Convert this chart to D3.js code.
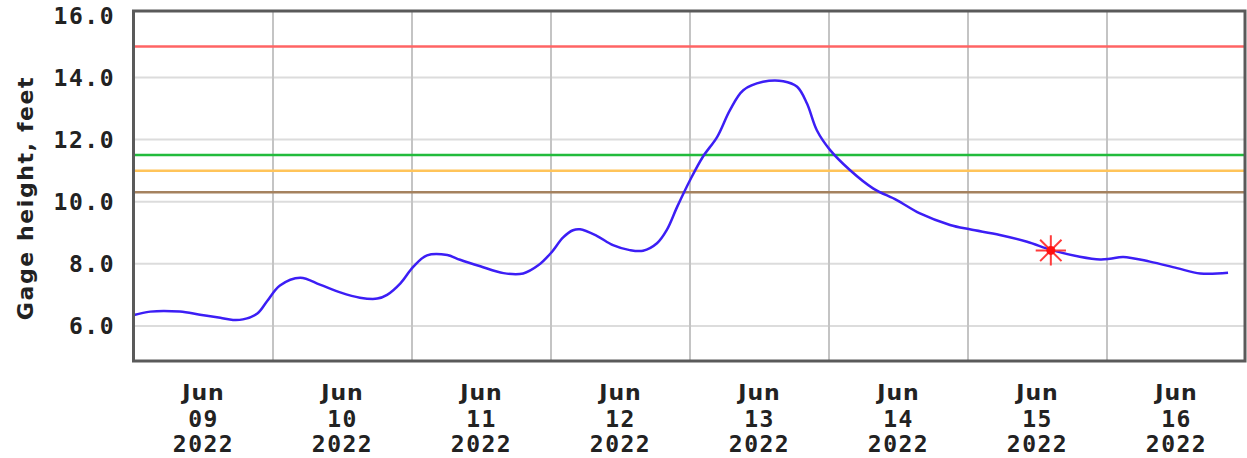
<!DOCTYPE html>
<html>
<head>
<meta charset="utf-8">
<script src="https://cdn.jsdelivr.net/npm/d3@7"></script>
<style>
  html, body { margin: 0; padding: 0; background: #fff; }
  svg { display: block; }
</style>
</head>
<body>
<svg id="chart" width="1247" height="458"></svg>
<script>
// ---- data (hours after 2022-06-09 00:00, gage height in feet) ----
const hoursSinceStart = [0, 2.8, 7.9, 11.4, 14.9, 17.1, 18.8, 21.3, 23.0, 25.2, 28.7, 32.1, 35.6, 39.0, 42.0, 43.7, 46.0, 48.2, 50.6, 54.1, 56.3, 59.8, 63.8, 67.2, 69.8, 72.0, 74.1, 75.8, 77.0, 79.9, 82.7, 85.6, 87.9, 90.3, 92.0, 93.8, 96.0, 98.2, 100.7, 102.9, 105.2, 108.6, 112.1, 114.5, 116.2, 117.9, 120.2, 123.6, 127.6, 131.7, 135.7, 140.9, 144.3, 149.5, 154.2, 158.5, 163.3, 166.8, 168.5, 170.8, 175.4, 180.1, 184.1, 188.9];
const gageHeight = [6.35, 6.46, 6.46, 6.36, 6.26, 6.19, 6.21, 6.40, 6.80, 7.30, 7.55, 7.33, 7.08, 6.91, 6.88, 7.00, 7.37, 7.90, 8.27, 8.28, 8.13, 7.92, 7.70, 7.69, 7.95, 8.35, 8.85, 9.08, 9.11, 8.90, 8.60, 8.44, 8.42, 8.66, 9.09, 9.84, 10.69, 11.44, 12.09, 12.95, 13.59, 13.86, 13.88, 13.70, 13.16, 12.30, 11.66, 11.02, 10.43, 10.05, 9.62, 9.25, 9.11, 8.93, 8.71, 8.44, 8.23, 8.14, 8.16, 8.22, 8.07, 7.86, 7.69, 7.71];
const thresholdValues = [15.0, 11.5, 11.0, 10.3];
const thresholdColors = ["#ff6464", "#22bb3c", "#ffc45a", "#a5825f"];
const markerHour = [158.3];
const markerValue = [8.43];
const yTickValues = [6, 8, 10, 12, 14, 16];
const yTickLabels = ["6.0", "8.0", "10.0", "12.0", "14.0", "16.0"];
const dayLabels = [["Jun","09","2022"],["Jun","10","2022"],["Jun","11","2022"],["Jun","12","2022"],["Jun","13","2022"],["Jun","14","2022"],["Jun","15","2022"],["Jun","16","2022"]];
const yAxisTitle = "Gage height, feet";

// ---- setup ----
const start = new Date(2022, 5, 9, 0, 0);
const end = new Date(2022, 5, 17, 0, 0);
const toDate = h => new Date(start.getTime() + h * 3600 * 1000);

const svg = d3.select("#chart");
const L = 133.5, R = 1245, T = 11, B = 361;

const x = d3.scaleTime().domain([start, end]).range([134, 1246]);
const y = d3.scaleLinear().domain([4.87, 16.14]).range([B, T]);

const monoFont = "'DejaVu Sans Mono', 'Liberation Mono', monospace";
const sansFont = "'DejaVu Sans', Verdana, sans-serif";

// horizontal grid
svg.append("g")
  .selectAll("line")
  .data(yTickValues.filter(v => v < 16))
  .join("line")
  .attr("x1", L).attr("x2", R)
  .attr("y1", d => y(d)).attr("y2", d => y(d))
  .attr("stroke", "#dcdcdc").attr("stroke-width", 2);

// vertical grid at midnight
const midnights = d3.timeDay.range(d3.timeDay.offset(start, 1), end);
svg.append("g")
  .selectAll("line")
  .data(midnights)
  .join("line")
  .attr("x1", d => x(d)).attr("x2", d => x(d))
  .attr("y1", T).attr("y2", B)
  .attr("stroke", "#c4c4c4").attr("stroke-width", 2);

// threshold lines
svg.append("g")
  .selectAll("line")
  .data(thresholdValues)
  .join("line")
  .attr("x1", L).attr("x2", R)
  .attr("y1", d => y(d)).attr("y2", d => y(d))
  .attr("stroke", (d, i) => thresholdColors[i])
  .attr("stroke-width", 2.5);

// data line
const pts = hoursSinceStart.map((h, i) => [toDate(h), gageHeight[i]]);
const line = d3.line().x(d => x(d[0])).y(d => y(d[1])).curve(d3.curveCatmullRom.alpha(0.5));
svg.append("path")
  .datum(pts)
  .attr("d", line)
  .attr("fill", "none")
  .attr("stroke", "#3c1ef5")
  .attr("stroke-width", 2.5);

// current-value marker (red asterisk)
const mk = svg.append("g")
  .selectAll("g")
  .data(markerHour.map((h, i) => [toDate(h), markerValue[i]]))
  .join("g")
  .attr("transform", d => `translate(${x(d[0])},${y(d[1])})`);
mk.append("path").attr("d", d3.symbol(d3.symbolPlus, 300)())
  .attr("fill", "none").attr("stroke", "#ff3b3b").attr("stroke-width", 2);
mk.append("path").attr("d", d3.symbol(d3.symbolTimes, 300)())
  .attr("fill", "none").attr("stroke", "#ff3b3b").attr("stroke-width", 2);
mk.append("circle").attr("r", 4.5).attr("fill", "#ff1010");

// frame
svg.append("rect")
  .attr("x", L).attr("y", T)
  .attr("width", R - L).attr("height", B - T)
  .attr("fill", "none").attr("stroke", "#5a5a5a").attr("stroke-width", 3);

// y tick labels
svg.append("g")
  .selectAll("text")
  .data(yTickValues)
  .join("text")
  .attr("x", 115)
  .attr("y", d => y(d) + 8.5)
  .attr("text-anchor", "end")
  .attr("font-family", monoFont)
  .attr("font-weight", "bold")
  .attr("font-size", 23)
  .attr("letter-spacing", 1.5)
  .attr("fill", "#222")
  .text((d, i) => yTickLabels[i]);

// x labels at noon each day
const noons = d3.timeDay.range(start, end).map(d => d3.timeHour.offset(d, 12));
const xl = svg.append("g")
  .selectAll("g")
  .data(noons)
  .join("g")
  .attr("transform", d => `translate(${x(d)},0)`);
xl.append("text").attr("y", 400).attr("text-anchor", "middle")
  .attr("font-family", sansFont).attr("font-weight", "bold").attr("font-size", 22)
  .attr("letter-spacing", 1).attr("fill", "#222")
  .text((d, i) => dayLabels[i][0]);
xl.append("text").attr("y", 427).attr("text-anchor", "middle")
  .attr("font-family", monoFont).attr("font-weight", "bold").attr("font-size", 23)
  .attr("letter-spacing", 1.5).attr("fill", "#222")
  .text((d, i) => dayLabels[i][1]);
xl.append("text").attr("y", 452).attr("text-anchor", "middle")
  .attr("font-family", monoFont).attr("font-weight", "bold").attr("font-size", 23)
  .attr("letter-spacing", 1.5).attr("fill", "#222")
  .text((d, i) => dayLabels[i][2]);

// y axis title
svg.append("text")
  .attr("transform", "translate(33,198) rotate(-90)")
  .attr("text-anchor", "middle")
  .attr("font-family", sansFont)
  .attr("font-weight", "bold")
  .attr("font-size", 22)
  .attr("letter-spacing", 1.6)
  .attr("fill", "#222")
  .text(yAxisTitle);
</script>
</body>
</html>
